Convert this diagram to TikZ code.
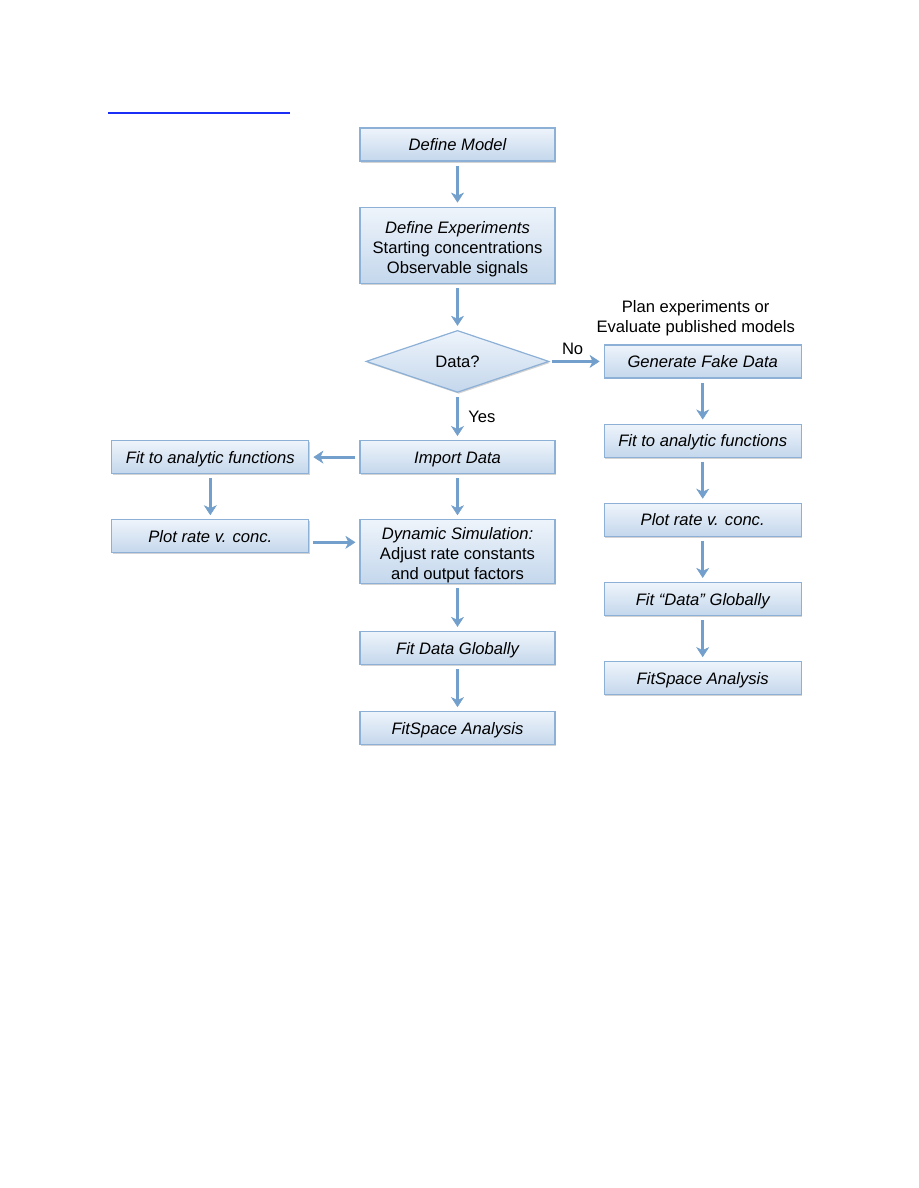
\documentclass[tikz,border=0pt]{standalone}
\usepackage{fontspec}
\setmainfont{Liberation Sans}
\usepackage{xcolor}
\usetikzlibrary{arrows.meta, positioning, shapes.geometric, shadows}

\definecolor{boxtop}{HTML}{EEF4FB}
\definecolor{boxbot}{HTML}{C4D7EC}
\definecolor{boxline}{HTML}{8CB0D6}
\definecolor{arrblue}{HTML}{729FCB}
\definecolor{linkblue}{HTML}{1A2EF5}
\newcommand{\boxlift}[1]{\rule{0pt}{#1}}

\begin{document}
\begin{tikzpicture}[x=1pt, y=-1pt,
  step box/.style={rectangle, draw=boxline, line width=1.2pt,
    top color=boxtop, bottom color=boxbot,
    minimum width=195pt, minimum height=33pt, align=center,
    font=\fontsize{16.6}{20}\selectfont, inner sep=2pt,
    drop shadow={shadow xshift=1.2pt, shadow yshift=-1.5pt, opacity=0.35}},
  ital/.style={step box, font=\fontsize{16.6}{20}\selectfont\itshape,
    text height=12pt, text depth=0pt},
  decision/.style={diamond, draw=boxline, line width=1.2pt,
    top color=boxtop, bottom color=boxbot,
    minimum width=183pt, minimum height=62pt, inner sep=0pt,
    font=\fontsize{16.6}{20}\selectfont, text height=12pt, text depth=0pt,
    drop shadow={shadow xshift=1.2pt, shadow yshift=-1.5pt, opacity=0.35}},
  arr/.style={-{Stealth[length=10pt, width=13pt, inset=3pt, line width=0.6pt]},
    line width=3pt, arrblue, shorten <=4pt, shorten >=4pt},
  note/.style={font=\fontsize{16.6}{20}\selectfont, align=center, text=black},
]
\useasboundingbox (0,0) rectangle (918,1188);
% ====== LINK LINE ======
\coordinate (link_a) at (108,113);
\coordinate (link_b) at (290,113);
\draw[linkblue, line width=2pt] (link_a) -- (link_b);
%
% ====== MAIN COLUMN ======
\node[ital] (m_model) at (457.5,144.5) {Define Model};
\node[step box, minimum height=76pt, below=45pt of m_model] (m_exp)
  {\boxlift{20pt}\itshape Define Experiments\\Starting concentrations\\Observable signals};
\node[decision, below=46pt of m_exp] (m_data) {Data?};
\node[ital, below=47pt of m_data] (m_import) {Import Data};
\node[step box, minimum height=63.5pt, inner xsep=1pt, inner ysep=0pt,
  below=45pt of m_import] (m_dyn)
  {\boxlift{20pt}\itshape Dynamic Simulation:\\Adjust rate constants\\and output factors};
\node[ital, below=47pt of m_dyn] (m_fit) {Fit Data Globally};
\node[ital, below=46pt of m_fit] (m_space) {FitSpace Analysis};
\draw[arr] (m_model) -- (m_exp);
\draw[arr] (m_exp) -- (m_data);
\draw[arr] (m_data) -- node[note, right=6pt] {Yes} (m_import);
\draw[arr] (m_import) -- (m_dyn);
\draw[arr] (m_dyn) -- (m_fit);
\draw[arr] (m_fit) -- (m_space);
%
% ====== LEFT COLUMN ======
\node[ital, minimum width=197pt, left=50pt of m_import] (l_fit) {Fit to analytic functions};
\node[ital, minimum width=197pt, below=45pt of l_fit] (l_plot) {Plot rate v. conc.};
\draw[arr] (m_import) -- (l_fit);
\draw[arr] (l_fit) -- (l_plot);
\draw[arr] ([yshift=-6pt]l_plot.east) -- ([yshift=-6pt]l_plot.east -| m_dyn.west);
%
% ====== RIGHT COLUMN ======
\node[ital, minimum width=197pt, right=54pt of m_data] (r_fake) {Generate Fake Data};
\node[ital, minimum width=197pt, below=45pt of r_fake] (r_fit) {Fit to analytic functions};
\node[ital, minimum width=197pt, below=45pt of r_fit] (r_plot) {Plot rate v. conc.};
\node[ital, minimum width=197pt, below=45pt of r_plot] (r_global) {Fit ``Data'' Globally};
\node[ital, minimum width=197pt, below=45pt of r_global] (r_space) {FitSpace Analysis};
\node[note, above=5pt of r_fake.north, xshift=-7pt] (r_plan)
  {Plan experiments or\\Evaluate published models};
\draw[arr, shorten <=2pt] (m_data) -- node[note, above=2pt, xshift=-4pt] {No} (r_fake);
\draw[arr] (r_fake) -- (r_fit);
\draw[arr] (r_fit) -- (r_plot);
\draw[arr] (r_plot) -- (r_global);
\draw[arr] (r_global) -- (r_space);
\end{tikzpicture}
\end{document}
